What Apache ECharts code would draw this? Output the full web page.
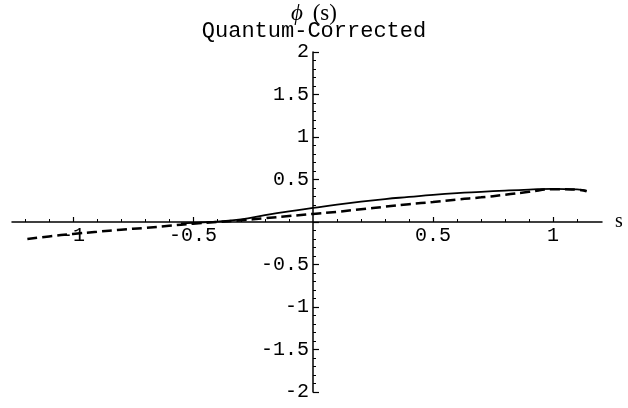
<!DOCTYPE html>
<html>
<head>
<meta charset="utf-8">
<script src="https://cdn.jsdelivr.net/npm/echarts@6/dist/echarts.min.js"></script>
<style>
  html, body { margin: 0; padding: 0; background: #fff; }
  #chart { width: 628px; height: 408px; }
</style>
</head>
<body>
<div id="chart"></div>
<script>
// Quantum-corrected phi(s): solid and dashed curves
const solidS = [-0.55, -0.4, -0.3, -0.2, -0.1, 0, 0.1, 0.2, 0.3, 0.4, 0.5, 0.6, 0.7, 0.8, 0.9, 1.0, 1.1, 1.14];
const solidV = [-0.015, 0.005, 0.03, 0.08, 0.125, 0.165, 0.205, 0.24, 0.27, 0.295, 0.32, 0.34, 0.355, 0.37, 0.382, 0.39, 0.385, 0.37];

const dashS = [-1.19, -1.1, -1.0, -0.9, -0.8, -0.7, -0.6, -0.5, -0.4, -0.3, -0.2, -0.1, 0, 0.1, 0.2, 0.3, 0.4, 0.5, 0.6, 0.7, 0.8, 0.9, 1.0, 1.1, 1.14];
const dashV = [-0.2, -0.17, -0.14, -0.115, -0.09, -0.07, -0.045, -0.02, 0.0, 0.02, 0.045, 0.07, 0.095, 0.12, 0.15, 0.18, 0.21, 0.235, 0.265, 0.29, 0.32, 0.355, 0.385, 0.38, 0.36];

const xMajor = [-1, -0.5, 0.5, 1];
const xMinor = [-1.2, -1.1, -0.9, -0.8, -0.7, -0.6, -0.4, -0.3, -0.2, -0.1, 0.1, 0.2, 0.3, 0.4, 0.6, 0.7, 0.8, 0.9, 1.1];
const xRange = [-1.254, 1.204];
const yRange = [-2, 2];
const yStep = 0.5;

// plot area
const W = 628, H = 408;
const gridBox = { left: 12, right: 26, top: 52, bottom: 16 };
const plotW = W - gridBox.left - gridBox.right;
const plotH = H - gridBox.top - gridBox.bottom;
// axes cross at the origin: shift each axis from the grid edge to zero of the other
const yAxisShift = -((0 - xRange[0]) / (xRange[1] - xRange[0])) * plotW;
const xAxisShift = -((0 - yRange[0]) / (yRange[1] - yRange[0])) * plotH;

const mono = 'Liberation Mono';
const serif = 'Liberation Serif';
const ink = '#000';

const fmt = v => (Math.abs(v) < 1e-9 ? '' : String(+v.toFixed(2)));

const chart = echarts.init(document.getElementById('chart'), null, { renderer: 'canvas' });

chart.setOption({
  animation: false,
  backgroundColor: '#fff',
  title: [
    {
      text: '{i|ϕ} {n|(s)}',
      left: 'center', top: -3,
      textStyle: {
        fontFamily: serif, fontSize: 23, fontWeight: 'normal', color: ink,
        rich: {
          i: { fontFamily: serif, fontStyle: 'italic', fontSize: 23, color: ink, padding: [0, 4, 0, 0] },
          n: { fontFamily: serif, fontSize: 23, color: ink }
        }
      }
    },
    {
      text: 'Quantum-Corrected',
      left: 'center', top: 15,
      textStyle: { fontFamily: mono, fontSize: 22, fontWeight: 'normal', color: ink }
    }
  ],
  grid: Object.assign({ containLabel: false, outerBoundsMode: 'none' }, gridBox),
  xAxis: [
    {
      type: 'value', min: xRange[0], max: xRange[1],
      position: 'bottom', offset: xAxisShift,
      name: 's', nameLocation: 'end', nameGap: 13,
      nameTextStyle: { fontFamily: serif, fontSize: 20, color: ink },
      axisLine: { show: true, onZero: false, lineStyle: { color: ink, width: 1.5 } },
      axisTick: { show: true, inside: true, length: 5, customValues: xMajor, lineStyle: { color: ink, width: 1.2 } },
      axisLabel: { show: true, customValues: xMajor, margin: 4, formatter: fmt,
                   fontFamily: mono, fontSize: 20, color: ink },
      splitLine: { show: false }
    },
    {
      type: 'value', min: xRange[0], max: xRange[1],
      position: 'bottom', offset: xAxisShift,
      axisLine: { show: false, onZero: false },
      axisTick: { show: true, inside: true, length: 3, customValues: xMinor, lineStyle: { color: ink, width: 1 } },
      axisLabel: { show: false },
      splitLine: { show: false }
    }
  ],
  yAxis: {
    type: 'value', min: yRange[0], max: yRange[1], interval: yStep,
    position: 'left', offset: yAxisShift,
    axisLine: { show: true, onZero: false, lineStyle: { color: ink, width: 1.5 } },
    axisTick: { show: true, inside: true, length: 6, lineStyle: { color: ink, width: 1.2 } },
    minorTick: { show: true, splitNumber: 5, length: 3, lineStyle: { color: ink, width: 1 } },
    axisLabel: { show: true, margin: 4, formatter: fmt, fontFamily: mono, fontSize: 20, color: ink },
    splitLine: { show: false },
    minorSplitLine: { show: false }
  },
  series: [
    {
      name: 'solid', type: 'line', smooth: true, showSymbol: false, silent: true,
      xAxisIndex: 0,
      data: solidS.map((s, i) => [s, solidV[i]]),
      lineStyle: { color: ink, width: 1.8, type: 'solid' },
      z: 3
    },
    {
      name: 'dashed', type: 'line', smooth: true, showSymbol: false, silent: true,
      xAxisIndex: 0,
      data: dashS.map((s, i) => [s, dashV[i]]),
      lineStyle: { color: ink, width: 2.5, type: [10, 5] },
      z: 3
    }
  ]
});
</script>
</body>
</html>
